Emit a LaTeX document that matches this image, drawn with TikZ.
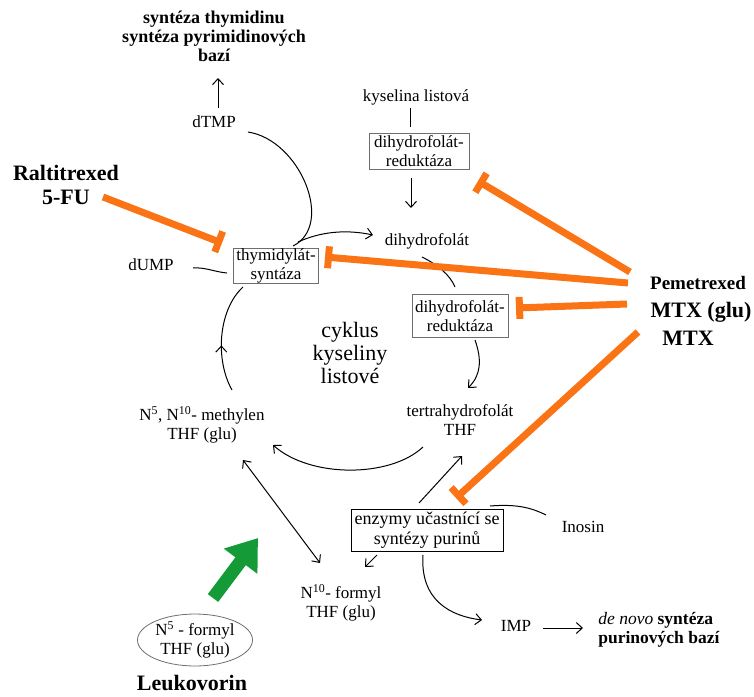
\documentclass[tikz,border=0pt]{standalone}
\usepackage{fontspec}
\setmainfont{Liberation Serif}
\usetikzlibrary{arrows.meta,shapes.geometric,decorations.markings}
\definecolor{inhorange}{RGB}{250,115,20}
\definecolor{leugreen}{RGB}{20,155,55}
\definecolor{boxgray}{RGB}{110,110,110}

\begin{document}
\begin{tikzpicture}[x = 1pt, y = -1pt,
    lbl/.style = {inner sep = 1pt, align = center, font = \fontsize{17}{19}\selectfont},
    enzbox/.style = {lbl, draw = boxgray, line width = 0.8pt, inner sep = 0pt},
    drug/.style = {inner sep = 1pt, align = center, font = \fontsize{22}{24}\selectfont\bfseries},
    arr/.style = {line width = 1pt, -{Straight Barb[length = 6pt, width = 11pt]}},
    link/.style = {line width = 1pt},
    inh/.style = {draw = inhorange, line width = 7pt, -{Bar[width = 22pt]}}]
  \useasboundingbox (0,0) rectangle (754,696);

  % folate cycle
  \node [lbl, font = \fontsize{18}{19}\selectfont\bfseries] (top) at (214,36)
        {syntéza thymidinu\\syntéza pyrimidinových\\bazí};
  \node [lbl] (dtmp) at (214,122) {dTMP};
  \node [enzbox, minimum width = 85, minimum height = 35] (ts) at (276,266) {thymidylát-\\syntáza};
  \node [lbl] (dump) at (151,265) {dUMP};
  \node [lbl] (dhf) at (427,241) {dihydrofolát};
  \node [lbl] (kl) at (416,97) {kyselina listová};
  \node [enzbox, minimum width = 100, minimum height = 36] (dhfr1) at (419,151) {dihydrofolát-\\reduktáza};
  \node [enzbox, minimum width = 96, minimum height = 43] (dhfr2) at (460,316) {dihydrofolát-\\reduktáza};
  \node [lbl] (thf) at (460,420) {tertrahydrofolát\\THF};
  \node [lbl] (meth) at (202,425) {N\textsuperscript{5}, N\textsuperscript{10}- methylen\\THF (glu)};
  \node [lbl, font = \fontsize{22}{23}\selectfont] (cyk) at (350,353) {cyklus\\kyseliny\\listové};

  % purines
  \node [enzbox, draw = black, font = \fontsize{18}{20}\selectfont,
         minimum width = 152, minimum height = 42] (enz) at (427,530) {enzymy učastnící se\\syntézy purinů};
  \node [lbl] (ino) at (583,527) {Inosin};
  \node [lbl] (n10) at (341,603) {N\textsuperscript{10}- formyl\\THF (glu)};
  \node [lbl] (imp) at (516,626) {IMP};
  \node [lbl, align = left, font = \fontsize{17.5}{19}\selectfont] (denovo) at (659,630)
        {\textit{de novo} \textbf{syntéza}\\\textbf{purinových bazí}};

  % leucovorin
  \node [lbl, ellipse, draw = boxgray, line width = 0.8pt, inner sep = 0pt,
         minimum width = 115, minimum height = 45] (n5) at (195,640) {N\textsuperscript{5} - formyl\\THF (glu)};
  \node [drug] (leu) at (192,683) {Leukovorin};
  \coordinate (leutip) at (258,538);

  % drugs
  \node [drug] (ral) at (66,185) {Raltitrexed\\5-FU};
  \node [drug, font = \fontsize{19}{21}\selectfont\bfseries] (pem) at (698,283) {Pemetrexed};
  \node [drug] (mtxg) at (701,312) {MTX (glu)};
  \node [drug] (mtx) at (688,338) {MTX};

  % connectors
  \draw [arr] ([shift = {(4,-14)}]dtmp.center) -- ([shift = {(4,42)}]top.center);
  \draw [link] ([shift = {(34,10)}]dtmp.center) .. controls (300,140) and (335,225) .. ([shift = {(17,-20)}]ts.center);
  \draw [link] ([shift = {(42,3)}]dump.center) .. controls (205,267) and (215,272) .. ([shift = {(-49,7)}]ts.center);
  \draw [arr] ([shift = {(22,-24)}]ts.center) .. controls (320,232) and (345,229) .. ([shift = {(-54,-6)}]dhf.center);
  \draw [link] ([shift = {(-5,16)}]dhf.center) .. controls (438,265) and (450,275) .. ([shift = {(-5,-29)}]dhfr2.center);
  \draw [arr] ([shift = {(15,24)}]dhfr2.center) .. controls (482,360) and (481,375) .. ([shift = {(8,-32)}]thf.center);
  \draw [arr] ([shift = {(-37,27)}]thf.center) .. controls (390,478) and (310,478) .. ([shift = {(71,20)}]meth.center);
  \draw [link, decoration = {markings, mark = at position 0.42 with {\arrow{Straight Barb[length = 6pt, width = 11pt]}}},
         postaction = {decorate}]
        ([shift = {(30,-35)}]meth.center) .. controls (215,360) and (218,310) .. ([shift = {(-33,21)}]ts.center);
  \draw [link] ([shift = {(-6,11)}]kl.center) -- ([shift = {(-9,-24)}]dhfr1.center);
  \draw [arr] ([shift = {(-8,27)}]dhfr1.center) -- ([shift = {(-16,-33)}]dhf.center);

  \draw [link] ([shift = {(63,-24)}]enz.center) .. controls (515,504) and (530,507) .. ([shift = {(-37,-12)}]ino.center);
  \draw [arr] ([shift = {(-8,-27)}]enz.center) -- ([shift = {(2,36)}]thf.center);
  \draw [arr] ([shift = {(-50,25)}]enz.center) -- ([shift = {(24,-36)}]n10.center);
  \draw [line width = 1pt, {Straight Barb[length = 6pt, width = 11pt]}-{Straight Barb[length = 6pt, width = 11pt]}]
        ([shift = {(41,35)}]meth.center) -- ([shift = {(-21,-40)}]n10.center);
  \draw [arr] ([shift = {(-4,25)}]enz.center) .. controls (420,600) and (450,616) .. ([shift = {(-34,-6)}]imp.center);
  \draw [arr] ([shift = {(27,2)}]imp.center) -- ([shift = {(-76,-2)}]denovo.center);

  \draw [leugreen, line width = 13pt, -{Triangle[length = 29pt, width = 40pt]}]
        ([shift = {(18,-42)}]n5.center) -- (leutip);

  \draw [inh] ([shift = {(37,12)}]ral.center) -- ([shift = {(-54,-23)}]ts.center);
  \draw [inh] ([shift = {(-68,-11)}]pem.center) -- ([shift = {(59,30)}]dhfr1.center);
  \draw [inh] ([shift = {(-70,0)}]pem.center) -- ([shift = {(49,-9)}]ts.center);
  \draw [inh] ([shift = {(-74,-8)}]mtxg.center) -- ([shift = {(56,-8)}]dhfr2.center);
  \draw [inh] ([shift = {(-50,-6)}]mtx.center) -- ([shift = {(29,-32)}]enz.center);
\end{tikzpicture}
\end{document}
